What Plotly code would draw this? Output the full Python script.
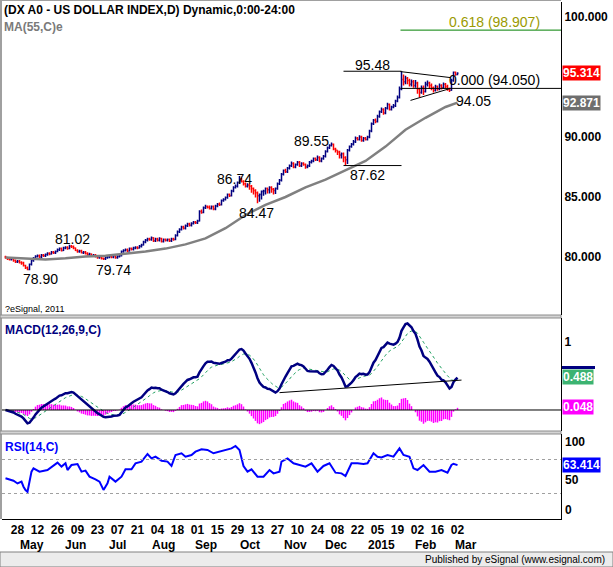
import numpy as np
import pandas as pd
import plotly.graph_objects as go

W, H = 613, 567

# ---------------- data ----------------
close = [79.95, 79.85, 79.8, 79.85,
         79.7, 79.6, 79.65, 79.55, 79.5,
         79.3, 79.1, 78.95,
         79.4, 79.7, 79.9,
         80.05, 80.1, 80.0, 80.15, 80.1, 80.2,
         80.3, 80.25, 80.4, 80.35, 80.45,
         80.6, 80.7, 80.55, 80.75, 80.8, 80.7, 80.9, 80.85, 80.75,
         80.55, 80.45, 80.5, 80.35, 80.4, 80.3,
         80.2, 80.25, 80.1, 80.15, 80.05, 79.95, 80.0,
         79.9, 79.85, 79.95, 80.0,
         80.05, 80.0, 80.1, 79.95, 80.05, 80.1, 80.45,
         80.55, 80.6, 80.5, 80.7, 80.65, 80.75,
         80.8, 80.75, 80.9, 81.0, 81.25, 81.4,
         81.5, 81.45, 81.6, 81.35, 81.5, 81.4, 81.55, 81.3, 81.45, 81.4,
         81.45, 81.35, 81.5, 81.45, 81.8,
         82.1, 82.3, 82.5, 82.4, 82.6,
         82.75, 82.65, 82.8, 82.9, 82.85,
         83.0, 83.8, 83.7,
         84.1, 84.2, 84.15, 84.05, 84.2, 84.0, 84.25, 84.4, 84.35, 84.7,
         84.8, 84.95, 85.2, 85.1,
         85.5, 85.8, 85.9, 86.2, 86.5, 86.3,
         86.1, 85.9, 86.0, 85.9, 85.7, 85.55, 85.35, 85.1, 85.2,
         85.45, 85.5, 85.7, 85.6, 85.8, 85.65, 85.55,
         85.7, 86.1, 86.4,
         86.9, 87.2, 87.1, 87.4,
         87.6, 87.8, 87.5, 87.7, 87.9, 87.6, 87.8, 87.7, 87.5, 87.6, 87.9, 88.0,
         88.2, 88.1, 88.3, 88.0, 88.2, 88.4,
         88.8, 89.1, 89.3, 89.4, 89.0,
         88.9, 88.75, 88.5, 88.6, 88.3, 88.1,
         88.9, 89.2, 89.4, 89.6,
         89.9, 89.8, 90.0, 89.7, 89.9, 89.8, 90.0,
         90.5, 91.1, 91.4, 91.3,
         91.7, 92.1, 92.3, 92.0,
         92.4, 92.7, 92.3, 92.5, 92.6,
         93.0, 93.3,
         94.0, 94.8,
         94.6, 94.9, 94.7, 94.4, 94.6, 94.3, 94.5, 94.0, 93.7, 94.1, 93.8, 94.4, 94.5, 94.3,
         94.1, 93.9, 94.2, 94.0, 94.3, 94.1, 94.4, 94.2, 94.0, 93.9, 94.7, 95.4, 95.2, 95.314]

high = [80.1, 80.0, 79.95, 79.95, 79.9, 79.8, 79.75, 79.75, 79.65, 79.6, 79.35, 79.2,
        79.45, 79.8, 80.0, 80.15, 80.2, 80.2, 80.25, 80.25, 80.3, 80.4, 80.4, 80.5, 80.5, 80.55,
        80.7, 80.8, 80.8, 80.85, 80.9, 80.9, 81.02, 81.0, 80.95, 80.8, 80.65, 80.6, 80.6, 80.5, 80.5,
        80.4, 80.35, 80.3, 80.25, 80.25, 80.1, 80.1, 80.1, 79.95, 80.05, 80.1, 80.15, 80.15, 80.2, 80.15, 80.15, 80.2, 80.55,
        80.65, 80.7, 80.7, 80.8, 80.8, 80.85, 80.9, 80.9, 81.0, 81.1, 81.35, 81.5,
        81.6, 81.6, 81.7, 81.65, 81.6, 81.6, 81.65, 81.6, 81.55, 81.55, 81.55, 81.55, 81.6, 81.6, 81.9,
        82.2, 82.4, 82.6, 82.6, 82.7, 82.85, 82.85, 82.9, 83.0, 83.0, 83.1, 83.9, 83.95,
        84.2, 84.35, 84.3, 84.3, 84.3, 84.3, 84.35, 84.5, 84.55, 84.8, 84.9, 85.05, 85.3, 85.3,
        85.6, 85.9, 86.05, 86.3, 86.74, 86.6, 86.4, 86.2, 86.15, 86.1, 86.0, 85.8, 85.65, 85.45, 85.3,
        85.55, 85.6, 85.8, 85.8, 85.9, 85.9, 85.75, 85.8, 86.2, 86.5, 87.0, 87.3, 87.35, 87.5,
        87.7, 87.95, 87.9, 87.8, 88.0, 88.0, 87.9, 87.9, 87.8, 87.7, 88.0, 88.1, 88.3, 88.3, 88.45, 88.4, 88.3, 88.5,
        88.9, 89.2, 89.4, 89.55, 89.45, 89.1, 88.9, 88.85, 88.7, 88.7, 88.4,
        89.0, 89.3, 89.5, 89.75, 90.05, 90.0, 90.15, 90.1, 90.0, 90.0, 90.1,
        90.6, 91.2, 91.5, 91.55, 91.85, 92.2, 92.45, 92.4, 92.5, 92.85, 92.8, 92.6, 92.75, 93.1, 93.45,
        94.2, 95.48,
        95.2, 95.1, 95.0, 94.85, 94.8, 94.75, 94.75, 94.6, 94.1, 94.3, 94.3, 94.6, 94.7, 94.6,
        94.45, 94.2, 94.35, 94.3, 94.45, 94.4, 94.55, 94.5, 94.35, 94.1, 94.85, 95.45, 95.45, 95.4]

low = [79.85, 79.75, 79.7, 79.7, 79.6, 79.5, 79.5, 79.45, 79.35, 79.2, 79.0, 78.9,
       78.9, 79.3, 79.6, 79.85, 79.95, 79.9, 79.9, 80.0, 80.0, 80.1, 80.15, 80.2, 80.25, 80.25,
       80.4, 80.5, 80.45, 80.5, 80.65, 80.6, 80.65, 80.75, 80.65, 80.5, 80.35, 80.35, 80.3, 80.25, 80.2,
       80.1, 80.1, 80.0, 80.0, 79.95, 79.85, 79.85, 79.8, 79.74, 79.75, 79.85, 79.9, 79.9, 79.9, 79.85, 79.85, 79.95, 80.05,
       80.35, 80.45, 80.4, 80.45, 80.55, 80.55, 80.65, 80.65, 80.7, 80.8, 80.95, 81.15,
       81.3, 81.35, 81.35, 81.25, 81.25, 81.3, 81.3, 81.2, 81.2, 81.3, 81.3, 81.25, 81.25, 81.35, 81.4,
       81.7, 82.0, 82.2, 82.3, 82.3, 82.5, 82.55, 82.55, 82.7, 82.75, 82.75, 82.95, 83.6,
       83.65, 84.0, 84.05, 83.95, 83.95, 83.9, 83.9, 84.15, 84.25, 84.3, 84.6, 84.7, 84.85, 85.0,
       85.05, 85.4, 85.7, 85.8, 86.1, 86.2, 85.95, 85.8, 85.8, 85.6, 85.35, 85.2, 84.95, 84.47, 84.6,
       84.8, 85.1, 85.2, 85.3, 85.3, 85.35, 85.2, 85.25, 85.6, 86.0, 86.3, 86.8, 87.0, 87.0,
       87.3, 87.5, 87.4, 87.4, 87.6, 87.5, 87.5, 87.6, 87.35, 87.4, 87.5, 87.8, 87.9, 88.0, 88.0, 87.9, 87.9, 88.1,
       88.3, 88.7, 89.0, 89.2, 88.9, 88.7, 88.5, 88.2, 88.2, 87.9, 87.62,
       87.75, 88.8, 89.1, 89.3, 89.5, 89.7, 89.7, 89.6, 89.6, 89.7, 89.7,
       89.9, 90.4, 91.0, 91.15, 91.2, 91.6, 92.0, 91.85, 91.9, 92.3, 92.2, 92.2, 92.4, 92.5, 92.9,
       93.2, 93.9,
       94.3, 94.4, 94.4, 94.2, 94.2, 94.1, 94.1, 93.6, 93.3, 93.6, 93.5, 93.7, 94.2, 94.0,
       93.9, 93.7, 93.8, 93.85, 93.9, 93.95, 94.0, 94.05, 93.85, 93.75, 93.85, 94.6, 95.1, 95.15]

first_date = "2014-04-18"

# MA(55) (trading-day index, value)
ma_idx = [0, 10, 20, 30, 40, 50, 60, 70, 80, 90, 100, 110, 120, 130, 140, 150, 160, 170, 180, 190, 200, 210, 220, 226]
ma_val = [79.95, 79.9, 79.8, 79.9, 80.05, 80.1, 80.25, 80.45, 80.7, 81.05, 81.55, 82.4, 83.5, 84.35,
          85.0, 85.8, 86.45, 87.2, 88.0, 89.2, 90.6, 91.6, 92.5, 92.871]

# RSI(14)
rsi_idx = [0, 4, 6, 8, 9, 10, 11, 13, 14, 17, 21, 24, 26, 28, 30, 31, 33, 36, 38, 40, 42, 45, 47, 49, 51, 52,
           55, 58, 60, 63, 65, 68, 71, 73, 75, 78, 81, 83, 85, 88, 90, 93, 95, 98, 101, 104, 107, 110, 113,
           115, 117, 119, 121, 123, 126, 129, 132, 134, 137, 138, 141, 144, 147, 150, 153, 156, 159, 162,
           165, 168, 170, 173, 176, 179, 181, 184, 186, 188, 191, 194, 197, 199, 202, 204, 206, 209, 212,
           215, 218, 221, 223, 224, 226]
rsi_val = [47.9, 45, 41.8, 44, 38, 34, 32, 55.7, 59.6, 55.7, 57.6, 63.5, 66.3, 61.6, 65.5, 57.6, 63.5, 64.7,
           55.7, 56.9, 49.8, 46.7, 44, 34.2, 42, 49.8, 44, 49.8, 58.4, 58.4, 65.5, 67.5, 76.5, 71.3, 73.3,
           68.6, 67.5, 62.4, 75.3, 77.3, 73.3, 75.3, 79.2, 82, 81.2, 77.3, 79.2, 81.2, 83.1, 85.9, 81.2,
           62.4, 55.7, 58.4, 49.8, 49.8, 57.6, 53.7, 55.7, 67.5, 71.3, 65.5, 63.5, 61.6, 65.5, 55.7, 62.4,
           65.5, 54.5, 53.7, 50.6, 65.5, 65.5, 64.7, 65.5, 77.3, 73.3, 72.5, 75.3, 73.3, 83.1, 75.3, 73.3,
           59.6, 57.6, 63.5, 55.7, 55.7, 57.6, 54.5, 63.5, 65.0, 63.414]

# value labels on the price pane
swing_idx = [11, 32, 49, 117, 126, 163, 170, 198]
swing_val = [78.90, 81.02, 79.74, 86.74, 84.47, 89.55, 87.62, 95.48]
swing_off = [(13, -9), (3, 6), (10, -10), (-5, -3), (-1, -10), (-20, 1), (22, -9), (-29, 6)]  # style (px)
box_idx = [169, 198]          # horizontal marker lines for 95.48 / 87.62
fib_start = 197.5
fib_618 = 98.907
fib_000 = 94.050
tri_upper = ([197.5, 222.5], [95.45, 94.95])
tri_lower = ([202.5, 222.5], [93.05, 94.05])
ma_note = "94.05"
macd_trend = ([137, 228], [0.255, 0.44])

last_close, last_ma, last_macd, last_hist, last_rsi = 95.314, 92.871, 0.488, 0.048, 63.414

tick_dates = ["2014-04-28", "2014-05-12", "2014-05-26", "2014-06-09", "2014-06-23", "2014-07-07",
              "2014-07-21", "2014-08-04", "2014-08-18", "2014-09-01", "2014-09-15", "2014-09-29",
              "2014-10-13", "2014-10-27", "2014-11-10", "2014-11-24", "2014-12-08", "2014-12-22",
              "2015-01-05", "2015-01-19", "2015-02-02", "2015-02-16", "2015-03-02"]
month_starts = ["2014-05-01", "2014-06-01", "2014-07-01", "2014-08-01", "2014-09-01", "2014-10-01",
                "2014-11-01", "2014-12-01", "2015-01-01", "2015-02-01", "2015-03-01"]
month_text = ["May", "Jun", "Jul", "Aug", "Sep", "Oct", "Nov", "Dec", "2015", "Feb", "Mar"]

# ---------------- derived ----------------
n = len(close)
idx = np.arange(n)
dates = pd.bdate_range(first_date, periods=n)
open_ = [close[0] + 0.05] + close[:-1]

s = pd.Series(close)
macd = s.ewm(span=12, adjust=False).mean() - s.ewm(span=26, adjust=False).mean()
signal = macd.ewm(span=9, adjust=False).mean()
hist = macd - signal

tick_idx = [int(dates.searchsorted(pd.Timestamp(d))) for d in tick_dates]
tick_text = [d[-2:] for d in tick_dates]
month_idx = [int(dates.searchsorted(pd.Timestamp(d))) + 4 for d in month_starts]

FONT = "Liberation Sans, Arial, sans-serif"
XD = [2 / W, 561 / W]
XR = [-1.75, 277.75]


def py(p):
    return 1 - p / H


def px(p):
    return p / W


fig = go.Figure()

# price pane
fig.add_trace(go.Scatter(x=ma_idx, y=ma_val, mode="lines", line=dict(color="#808080", width=2.5),
                         xaxis="x", yaxis="y", hoverinfo="skip"))
fig.add_trace(go.Ohlc(x=idx, open=open_, high=high, low=low, close=close,
                      increasing=dict(line=dict(color="#000080", width=1.5)),
                      decreasing=dict(line=dict(color="#ff0000", width=1.5)),
                      tickwidth=0.5, xaxis="x", yaxis="y", hoverinfo="skip"))

# MACD pane: histogram as stems from zero
hx, hy = [], []
for i, h in zip(idx, hist):
    hx += [i, i, None]
    hy += [0, h, None]
fig.add_trace(go.Scatter(x=hx, y=hy, mode="lines", line=dict(color="#ff00ff", width=1.5),
                         xaxis="x2", yaxis="y2", hoverinfo="skip"))
fig.add_trace(go.Scatter(x=idx, y=signal, mode="lines", line=dict(color="#20a060", width=1, dash="dot"),
                         xaxis="x2", yaxis="y2", hoverinfo="skip"))
fig.add_trace(go.Scatter(x=idx, y=macd, mode="lines", line=dict(color="#000080", width=2.5),
                         xaxis="x2", yaxis="y2", hoverinfo="skip"))

# RSI pane
fig.add_trace(go.Scatter(x=rsi_idx, y=rsi_val, mode="lines", line=dict(color="#0000ff", width=2),
                         xaxis="x3", yaxis="y3", hoverinfo="skip"))

shapes = []
# background frame elements
shapes.append(dict(type="rect", xref="paper", yref="paper", x0=0, x1=1, y0=0, y1=py(552),
                   fillcolor="#ececec", line=dict(color="#808080", width=1), layer="below"))
shapes.append(dict(type="line", xref="paper", yref="paper", x0=px(1), x1=px(1), y0=py(519), y1=py(0.5),
                   line=dict(color="#808080", width=1.5)))
shapes.append(dict(type="line", xref="paper", yref="paper", x0=0, x1=px(561), y0=py(0.5), y1=py(0.5),
                   line=dict(color="#a0a0a0", width=1)))
for top in (315, 431):
    shapes.append(dict(type="rect", xref="paper", yref="paper", x0=0, x1=px(561), y0=py(top + 3), y1=py(top),
                       fillcolor="#d4d4d4", line=dict(color="#8c8c8c", width=1)))

# price pane drawings
for v in (swing_val[7], swing_val[6]):
    shapes.append(dict(type="line", xref="x", yref="y", x0=box_idx[0], x1=box_idx[1], y0=v, y1=v,
                       line=dict(color="black", width=1)))
shapes.append(dict(type="line", xref="x", yref="y", x0=fib_start, x1=XR[1], y0=fib_618, y1=fib_618,
                   line=dict(color="#008000", width=1)))
shapes.append(dict(type="line", xref="x", yref="y", x0=fib_start, x1=XR[1], y0=fib_000, y1=fib_000,
                   line=dict(color="black", width=1)))
for tx, ty in (tri_upper, tri_lower):
    shapes.append(dict(type="line", xref="x", yref="y", x0=tx[0], x1=tx[1], y0=ty[0], y1=ty[1],
                       line=dict(color="black", width=1)))

# MACD pane drawings
shapes.append(dict(type="line", xref="x2 domain", yref="y2", x0=0, x1=1, y0=0, y1=0,
                   line=dict(color="black", width=1)))
shapes.append(dict(type="line", xref="x2", yref="y2", x0=macd_trend[0][0], x1=macd_trend[0][1],
                   y0=macd_trend[1][0], y1=macd_trend[1][1], line=dict(color="black", width=1)))
# navy strip above the MACD value box
shapes.append(dict(type="rect", xref="paper", yref="y2", x0=px(562), x1=px(595), y0=last_macd + 0.115,
                   y1=last_macd + 0.16, fillcolor="#000080", line=dict(width=0)))

# RSI pane drawings
for lvl in (70, 30):
    shapes.append(dict(type="line", xref="x3 domain", yref="y3", x0=0, x1=1, y0=lvl, y1=lvl,
                       line=dict(color="#a0a0a0", width=1, dash="dot")))

ann = []


def text(x, y, t, size=12, color="black", bold=False, xanchor="left", yanchor="middle", **kw):
    d = dict(x=x, y=y, text=t, showarrow=False, xanchor=xanchor, yanchor=yanchor,
             font=dict(family=FONT, size=size, color=color, weight="bold" if bold else "normal"))
    d.update(kw)
    if "xref" not in d:
        d["xref"] = "paper"
    if "yref" not in d:
        d["yref"] = "paper"
    ann.append(d)


text(px(2), py(10), "(DX A0 - US DOLLAR INDEX,D) Dynamic,0:00-24:00", bold=True)
text(px(2), py(27), "MA(55,C)e", color="#7a7a7a", bold=True)
text(px(3), py(309), "?eSignal, 2011", size=9)
text(px(3), py(330), "MACD(12,26,9,C)", color="#000080", bold=True)
text(px(3), py(447), "RSI(14,C)", color="#0000ff", bold=True)
text(px(607), py(559.5), "Published by eSignal (www.esignal.com)", size=10, xanchor="right")

for i, v, (dx, dy) in zip(swing_idx, swing_val, swing_off):
    text(i, v, f"{v:.2f}", size=14, xanchor="center", xref="x", yref="y", xshift=dx, yshift=dy)
text(ma_idx[-1], ma_val[-1], ma_note, size=14, xref="x", yref="y", xshift=-4, yshift=2)
text(px(447), fib_618, f"0.618 ({fib_618:.3f})", size=14, color="#9a9a00", yref="y", yshift=8)
text(px(447), fib_000, f"0.000 ({fib_000:.3f})", size=14, yref="y", yshift=8)

# month labels
for mi, mt in zip(month_idx, month_text):
    text(mi, py(545), mt, bold=True, xanchor="center", xref="x3")

# right-hand value boxes
box = dict(bold=True, color="white", borderpad=0)
text(px(562), last_close, f"{last_close:.3f}", yref="y", bgcolor="#ff0000", **box)
text(px(562), last_ma, f"{last_ma:.3f}", yref="y", bgcolor="#6e6e6e", **box)
text(px(562), last_macd, f"{last_macd:.3f}", yref="y2", bgcolor="#3cb371", **box)
text(px(562), last_hist, f"{last_hist:.3f}", yref="y2", bgcolor="#ff00ff", **box)
# RSI scale labels
text(px(563), py(442), "100", bold=True)
text(px(563), py(480), "50", bold=True)
text(px(563), py(510), "0", bold=True)
text(px(562), last_rsi, f"{last_rsi:.3f}", yref="y3", bgcolor="#0000ff", **box)

axis_font = dict(family=FONT, size=12, color="black", weight="bold")
common_x = dict(domain=XD, range=XR, showgrid=False, zeroline=False, fixedrange=True)
common_y = dict(side="right", showgrid=False, zeroline=False, showline=True, linecolor="black",
                linewidth=1, ticks="", tickfont=axis_font, fixedrange=True)

fig.update_layout(
    width=W, height=H, margin=dict(l=0, r=0, t=0, b=0),
    paper_bgcolor="white", plot_bgcolor="white", showlegend=False, hovermode=False,
    xaxis=dict(**common_x, anchor="y", showticklabels=False, rangeslider=dict(visible=False)),
    xaxis2=dict(**common_x, anchor="y2", showticklabels=False),
    xaxis3=dict(**common_x, anchor="y3", tickvals=tick_idx, ticktext=tick_text, ticks="",
                tickfont=axis_font, showline=True, linecolor="black", linewidth=1),
    yaxis=dict(**common_y, anchor="x", domain=[py(315), py(2)], range=[75.167, 101.25],
               tickvals=[80, 85, 90, 100], tickformat=".3f"),
    yaxis2=dict(**common_y, anchor="x2", domain=[py(431), py(318)], range=[-0.309, 1.353],
                tickvals=[1], ticktext=["1"]),
    yaxis3=dict(**common_y, anchor="x3", domain=[py(519), py(434)], range=[0, 100],
                tickvals=[], showticklabels=False),
    shapes=shapes, annotations=ann,
)

fig.write_html("out.html", config={"displayModeBar": False, "staticPlot": True})

# remove the browser's default page margin so the figure sits at the window origin
with open("out.html", encoding="utf-8") as f:
    page = f.read()
page = page.replace("<head>", "<head><style>html,body{margin:0;padding:0;overflow:hidden;}</style>", 1)
with open("out.html", "w", encoding="utf-8") as f:
    f.write(page)
